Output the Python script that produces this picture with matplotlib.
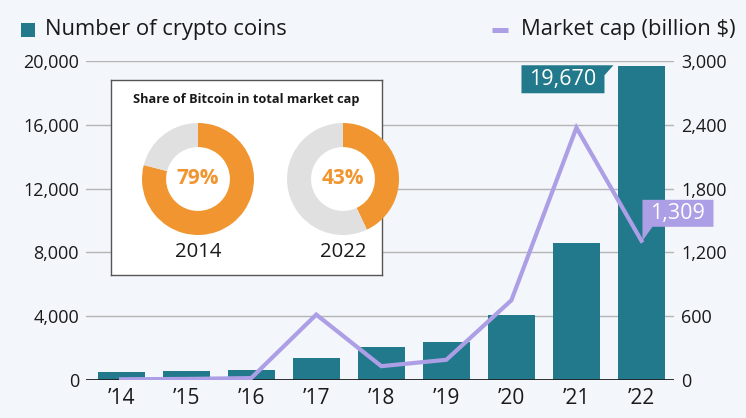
import matplotlib
matplotlib.use("Agg")
import matplotlib.pyplot as plt
import matplotlib.transforms as mtransforms
from matplotlib.patches import Polygon, Rectangle
from matplotlib.lines import Line2D
from matplotlib.ticker import FuncFormatter

years = ["’14", "’15", "’16", "’17", "’18", "’19", "’20", "’21", "’22"]
coins = [506, 560, 640, 1360, 2060, 2380, 4100, 8570, 19670]
mcap = [7, 10, 18, 615, 130, 190, 750, 2373, 1309]
share_years = ["2014", "2022"]
btc_share = [79, 43]

bg = "#f3f6fa"
teal = "#21798b"
lav = "#ad9fe6"
orange = "#f0952f"
grey = "#e0e0e0"
ink = "#1a1a1a"

plt.rcParams["font.family"] = ["Open Sans", "DejaVu Sans"]

W, H = 746, 418
fig = plt.figure(figsize=(W / 100, H / 100), dpi=100)
fig.patch.set_facecolor(bg)
ax = fig.add_axes([86 / W, 38 / H, 588 / W, 319 / H])
ax.set_facecolor(bg)
ax2 = ax.twinx()

x = list(range(len(years)))
ax.bar(x, coins, width=0.72, color=teal, zorder=2)
ax2.plot(x, mcap, color=lav, lw=3, solid_joinstyle="miter", zorder=3)

ax.set_xlim(-0.54, 8.5)
ax.set_ylim(0, 20000)
ax2.set_ylim(0, 3000)
ax.set_yticks(range(0, 20001, 4000))
ax2.set_yticks(range(0, 3001, 600))
fmt = FuncFormatter(lambda v, p: f"{int(v):,}")
ax.yaxis.set_major_formatter(fmt)
ax2.yaxis.set_major_formatter(fmt)
ax.set_xticks(x)
ax.set_xticklabels(years)

ax.yaxis.grid(True, color="#b5b5b5", lw=1, zorder=0)
ax.set_axisbelow(True)
ax.axhline(0, color="#222222", lw=1.3, zorder=4)
for a in (ax, ax2):
    for s in a.spines.values():
        s.set_visible(False)
    a.tick_params(length=0, labelsize=13, colors=ink)
ax.tick_params(axis="y", pad=5)
ax2.tick_params(axis="y", pad=5)
ax.tick_params(axis="x", labelsize=15, pad=6)


def px_trans(a, xv, yv):
    # offsets in pixels from a data point
    return mtransforms.Affine2D().scale(1 / fig.dpi) + fig.dpi_scale_trans + \
        mtransforms.ScaledTranslation(xv, yv, a.transData)


# value label for last bar
t1 = px_trans(ax, 8, coins[-1])
ax.add_patch(Polygon([(-120, -27), (-37, -27), (-37, -9), (-28, 1), (-120, 1)],
                     closed=True, fc=teal, ec="none", transform=t1, zorder=6, clip_on=False))
ax.text(-78.5, -13, f"{coins[-1]:,}", transform=t1, ha="center", va="center",
        color="white", fontsize=15.5, zorder=7)

# value label for last market cap point
t2 = px_trans(ax2, 8, mcap[-1])
ax2.add_patch(Polygon([(1, 0), (11, 14), (72, 14), (72, 41), (1, 41)],
                      closed=True, fc=lav, ec="none", transform=t2, zorder=6, clip_on=False))
ax2.text(36.5, 27.5, f"{mcap[-1]:,}", transform=t2, ha="center", va="center",
         color="white", fontsize=15.5, zorder=7)

# legend
fig.patches.append(Rectangle((21 / W, (H - 37) / H), 14 / W, 14 / H,
                             fc=teal, ec="none", transform=fig.transFigure))
fig.text(45 / W, (H - 30) / H, "Number of crypto coins", fontsize=15.8,
         va="center", ha="left", color=ink)
fig.lines.append(Line2D([492 / W, 508 / W], [(H - 30) / H] * 2, color=lav, lw=3.6,
                        solid_capstyle="butt", transform=fig.transFigure))
fig.text(736 / W, (H - 30) / H, "Market cap (billion $)", fontsize=15.8,
         va="center", ha="right", color=ink)

# inset box
box = fig.add_axes([111 / W, (H - 275) / H, 271 / W, 195 / H])
box.set_facecolor("white")
box.set_xticks([])
box.set_yticks([])
for s in box.spines.values():
    s.set_color("#555555")
    s.set_linewidth(1)
box.text(0.5, 0.9, "Share of Bitcoin in total market cap", transform=box.transAxes,
         ha="center", va="center", fontsize=9.2, fontweight="bold", color=ink)

for i, (yr, sh) in enumerate(zip(share_years, btc_share)):
    cx = [198, 343][i]
    pa = fig.add_axes([(cx - 56) / W, (H - 235) / H, 112 / W, 112 / H])
    pa.pie([sh, 100 - sh], colors=[orange, grey], startangle=90, counterclock=False,
           wedgeprops=dict(width=0.43, edgecolor="none"))
    pa.set_xlim(-1, 1)
    pa.set_ylim(-1, 1)
    pa.set_aspect("equal")
    pa.text(0, 0, f"{sh}%", ha="center", va="center", fontsize=15,
            fontweight="bold", color=orange)
    fig.text(cx / W, (H - 252) / H, yr, ha="center", va="center",
             fontsize=14.6, color=ink)

fig.savefig("out.png", dpi=100, facecolor=bg)
